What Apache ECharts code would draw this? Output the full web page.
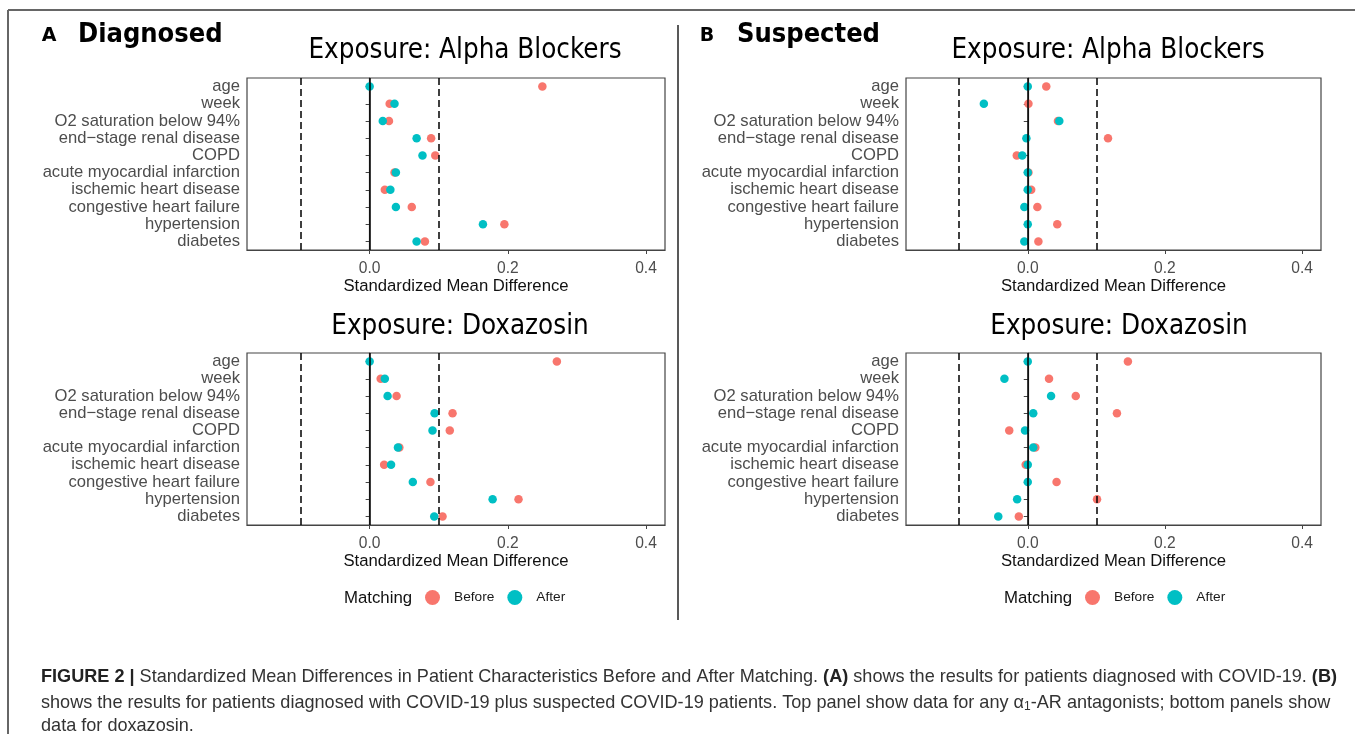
<!DOCTYPE html>
<html>
<head>
<meta charset="utf-8">
<script src="https://cdn.jsdelivr.net/npm/echarts@6/dist/echarts.min.js"></script>
<style>
html,body{margin:0;padding:0;background:#fff;}
#c{width:1355px;height:734px;}
</style>
</head>
<body>
<div id="c"></div>
<script>
// ---------------- data ----------------
const categories = ['age', 'week', 'O2 saturation below 94%', 'end\u2212stage renal disease', 'COPD',
  'acute myocardial infarction', 'ischemic heart disease', 'congestive heart failure', 'hypertension', 'diabetes'];

const diagAlphaBefore = [0.250, 0.029, 0.028, 0.089, 0.095, 0.036, 0.022, 0.061, 0.195, 0.080];
const diagAlphaAfter  = [0.000, 0.036, 0.019, 0.068, 0.0765, 0.038, 0.030, 0.038, 0.164, 0.068];
const diagDoxBefore   = [0.271, 0.016, 0.039, 0.120, 0.116, 0.043, 0.021, 0.088, 0.2155, 0.1055];
const diagDoxAfter    = [0.000, 0.022, 0.026, 0.094, 0.091, 0.041, 0.031, 0.0625, 0.178, 0.0935];
const suspAlphaBefore = [0.027, 0.001, 0.044, 0.117, -0.016, 0.001, 0.005, 0.014, 0.043, 0.0155];
const suspAlphaAfter  = [0.000, -0.064, 0.046, -0.002, -0.008, 0.000, 0.000, -0.005, 0.000, -0.005];
const suspDoxBefore   = [0.146, 0.031, 0.070, 0.130, -0.027, 0.011, -0.003, 0.042, 0.101, -0.013];
const suspDoxAfter    = [0.000, -0.034, 0.034, 0.008, -0.004, 0.008, 0.000, 0.000, -0.0155, -0.043];

const xTicks = [0, 0.2, 0.4];
const xRange = [-0.1775, 0.4275];
const refLines = [-0.1, 0, 0.1];
const groupNames = ['Before', 'After'];
const panelTitles = ['Exposure: Alpha Blockers', 'Exposure: Doxazosin', 'Exposure: Alpha Blockers', 'Exposure: Doxazosin'];
const xAxisTitle = 'Standardized Mean Difference';

// ---------------- styling ----------------
const COL_BEFORE = '#F8766D', COL_AFTER = '#00BFC4';
const SANS = "'Liberation Sans',Arial,Helvetica,sans-serif";
const TITLEF = "'DejaVu Sans Condensed','DejaVu Sans',sans-serif";

const panels = [
  {before: diagAlphaBefore, after: diagAlphaAfter, grid: {left: 247, top: 78, width: 418, height: 172}},
  {before: diagDoxBefore,   after: diagDoxAfter,   grid: {left: 247, top: 353, width: 418, height: 172}},
  {before: suspAlphaBefore, after: suspAlphaAfter, grid: {left: 906, top: 78, width: 415, height: 172}},
  {before: suspDoxBefore,   after: suspDoxAfter,   grid: {left: 906, top: 353, width: 415, height: 172}}
];

const grids = [], xAxes = [], yAxes = [], series = [];
panels.forEach((p, i) => {
  grids.push(Object.assign({show: true, borderColor: '#444', borderWidth: 1.2, backgroundColor: 'transparent'}, p.grid));
  xAxes.push({
    type: 'value', gridIndex: i, min: xRange[0], max: xRange[1],
    axisLine: {show: true, lineStyle: {color: '#444', width: 1.2}},
    axisTick: {show: true, customValues: xTicks, length: 4, lineStyle: {color: '#444'}},
    axisLabel: {customValues: xTicks, formatter: v => v.toFixed(1), color: '#4d4d4d', fontSize: 15.6, fontFamily: SANS, margin: 11},
    splitLine: {show: false},
    name: xAxisTitle, nameLocation: 'middle', nameGap: 26,
    nameTextStyle: {color: '#111', fontSize: 16.7, fontFamily: SANS}
  });
  yAxes.push({
    type: 'category', gridIndex: i, data: categories, inverse: true,
    axisLine: {show: true, lineStyle: {color: '#444', width: 1.2}},
    axisTick: {show: true, alignWithLabel: true, length: 4, lineStyle: {color: '#444'}},
    axisLabel: {color: '#4d4d4d', fontSize: 16.6, fontFamily: SANS, margin: 7, interval: 0},
    splitLine: {show: false}
  });
  series.push({
    type: 'scatter', name: 'ref', xAxisIndex: i, yAxisIndex: i, data: [], z: 1, silent: true,
    markLine: {
      silent: true, symbol: ['none', 'none'], label: {show: false}, animation: false,
      data: refLines.map(v => ({xAxis: v, lineStyle: {color: '#000', width: 1.5, type: v === 0 ? 'solid' : [7, 4]}}))
    }
  });
  [[groupNames[0], p.before, COL_BEFORE], [groupNames[1], p.after, COL_AFTER]].forEach(([nm, arr, col], k) => {
    series.push({
      type: 'scatter', name: nm, xAxisIndex: i, yAxisIndex: i, z: 2 + k,
      symbol: 'circle', symbolSize: 8.5, itemStyle: {color: col, opacity: 1},
      data: arr.map((v, j) => [v, categories[j]]), animation: false
    });
  });
});

const legendBase = {
  data: groupNames, icon: 'circle', itemWidth: 15, itemHeight: 15, itemGap: 13, orient: 'horizontal', padding: 0,
  textStyle: {color: '#1a1a1a', fontSize: 13.7, fontFamily: SANS, padding: [0, 0, 0, 9]},
  selectedMode: false
};

const txt = (x, y, text, style) => ({
  type: 'text', x, y, silent: true,
  style: Object.assign({text, fill: '#000', verticalAlign: 'middle'}, style)
});

const capStyle = {fontFamily: SANS, fontSize: 18.1, fill: '#333'};
const capRich = {
  b: {fontFamily: SANS, fontSize: 18.1, fontWeight: 'bold', fill: '#222'},
  s: {fontFamily: SANS, fontSize: 12, fill: '#333', padding: [8, 0, 0, 0]}
};

const graphics = [
  // frame and separator
  {type: 'line', silent: true, shape: {x1: 8, y1: 10, x2: 1355, y2: 10}, style: {stroke: '#666', lineWidth: 2}},
  {type: 'line', silent: true, shape: {x1: 8, y1: 10, x2: 8, y2: 734}, style: {stroke: '#666', lineWidth: 2}},
  {type: 'line', silent: true, shape: {x1: 678, y1: 25, x2: 678, y2: 620}, style: {stroke: '#222', lineWidth: 1.5}},
  // panel letters and headers
  txt(49, 36, 'A', {fontFamily: 'DejaVu Sans', fontWeight: 'bold', fontSize: 19, align: 'center'}),
  txt(78, 35, 'Diagnosed', {fontFamily: TITLEF, fontWeight: 'bold', fontSize: 27, align: 'left'}),
  txt(707, 36, 'B', {fontFamily: 'DejaVu Sans', fontWeight: 'bold', fontSize: 19, align: 'center'}),
  txt(737, 35, 'Suspected', {fontFamily: TITLEF, fontWeight: 'bold', fontSize: 27, align: 'left'}),
  // panel titles
  txt(465, 51, panelTitles[0], {fontFamily: TITLEF, fontSize: 27.5, align: 'center'}),
  txt(460, 327, panelTitles[1], {fontFamily: TITLEF, fontSize: 27.5, align: 'center'}),
  txt(1108, 51, panelTitles[2], {fontFamily: TITLEF, fontSize: 27.5, align: 'center'}),
  txt(1119, 327, panelTitles[3], {fontFamily: TITLEF, fontSize: 27.5, align: 'center'}),
  // legend titles
  txt(344, 598, 'Matching', {fontFamily: SANS, fontSize: 16.8, align: 'left', fill: '#111'}),
  txt(1004, 598, 'Matching', {fontFamily: SANS, fontSize: 16.8, align: 'left', fill: '#111'}),
  // caption
  {type: 'text', x: 41, y: 677, silent: true, style: Object.assign({
    text: '{b|FIGURE 2 |} Standardized Mean Differences in Patient Characteristics Before and After Matching. {b|(A)} shows the results for patients diagnosed with COVID-19. {b|(B)}',
    rich: capRich, verticalAlign: 'middle'}, capStyle)},
  {type: 'text', x: 41, y: 703, silent: true, style: Object.assign({
    text: 'shows the results for patients diagnosed with COVID-19 plus suspected COVID-19 patients. Top panel show data for any \u03b1{s|1}-AR antagonists; bottom panels show',
    rich: capRich, verticalAlign: 'middle'}, capStyle)},
  {type: 'text', x: 41, y: 726, silent: true, style: Object.assign({
    text: 'data for doxazosin.', verticalAlign: 'middle'}, capStyle)}
];

const option = {
  animation: false,
  backgroundColor: '#fff',
  grid: grids, xAxis: xAxes, yAxis: yAxes, series: series,
  legend: [
    Object.assign({left: 425, top: 590}, legendBase),
    Object.assign({left: 1085, top: 590}, legendBase)
  ],
  graphic: graphics
};

const chart = echarts.init(document.getElementById('c'), null, {renderer: 'canvas'});
chart.setOption(option);
</script>
</body>
</html>
